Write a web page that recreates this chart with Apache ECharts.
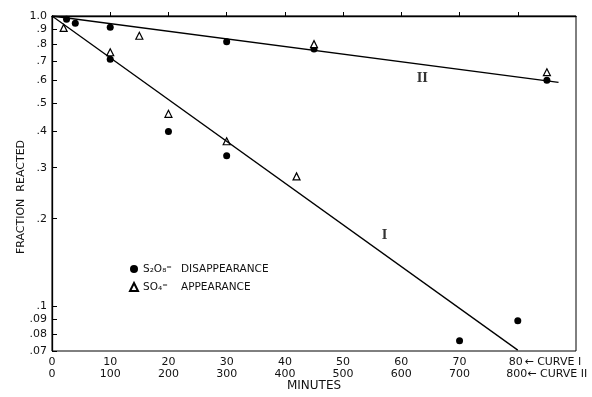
<!DOCTYPE html>
<html><head><meta charset="utf-8">
<script src="https://cdn.jsdelivr.net/npm/echarts@6/dist/echarts.min.js"></script>
<style>html,body{margin:0;padding:0;background:#fff}#c{width:592px;height:397px}</style>
</head><body><div id="c"></div>
<script>
// ---- Data ----
// Curve I uses the upper minute scale (0-80), curve II the lower one (0-800)
const curveI_circleMin = [10, 20, 30, 70, 80];
const curveI_circleFrac = [0.71, 0.40, 0.33, 0.076, 0.089];
const curveI_triMin = [2, 10, 20, 30, 42];
const curveI_triFrac = [0.91, 0.75, 0.46, 0.37, 0.28];
const curveII_circleMin = [25, 40, 100, 300, 450, 850];
const curveII_circleFrac = [0.975, 0.945, 0.915, 0.815, 0.77, 0.60];
const curveII_triMin = [150, 450, 850];
const curveII_triFrac = [0.855, 0.80, 0.64];
const lineI_min = [0, 80];
const lineI_frac = [1.0, 0.0705];
const lineII_min = [0, 870];
const lineII_frac = [1.0, 0.59];
// tick labels
const yTickVals = [1.0, 0.9, 0.8, 0.7, 0.6, 0.5, 0.4, 0.3, 0.2, 0.1, 0.09, 0.08, 0.07];
const yTickLabels = ['1.0', '.9', '.8', '.7', '.6', '.5', '.4', '.3', '.2', '.1', '.09', '.08', '.07'];
const xTopTicks = [0, 10, 20, 30, 40, 50, 60, 70, 80];
const xBottomTicks = [0, 100, 200, 300, 400, 500, 600, 700, 800];
const curveLabels = [{name: 'I', min: 57.1, frac: 0.175}, {name: 'II', min: 63.6, frac: 0.605}];

// ---- Build ----
const L = v => Math.log10(v);
const pts = (xs, ys) => xs.map((x, i) => [x, L(ys[i])]);
const FONT = 'DejaVu Sans';
const yLog = yTickVals.map(L);
const yFmt = v => {
  let best = 0, bd = Infinity;
  yLog.forEach((t, i) => { const d = Math.abs(t - v); if (d < bd) { bd = d; best = i; } });
  return yTickLabels[best];
};

const chart = echarts.init(document.getElementById('c'), null, {renderer: 'canvas'});
const circleStyle = {color: '#000', opacity: 1};
const triStyle = {color: '#fff', borderColor: '#000', borderWidth: 1.2, opacity: 1};

chart.setOption({
  animation: false,
  backgroundColor: '#fff',
  grid: {left: 52, top: 16, right: 16, bottom: 42, show: true, borderColor: '#000', borderWidth: 1, containLabel: false},
  xAxis: [{
    type: 'value', min: 0, max: 90, position: 'bottom',
    axisLine: {lineStyle: {color: '#000', width: 1.3}},
    axisTick: {inside: true, length: 4, customValues: xTopTicks.slice(1), lineStyle: {color: '#000'}},
    splitLine: {show: false},
    axisLabel: {
      customValues: xTopTicks, margin: 6, color: '#111', fontFamily: FONT, fontSize: 11,
      formatter: v => v === 80 ? '{p|}80{c|← CURVE I}' : String(v),
      rich: {p: {width: 52, fontSize: 11, fontFamily: FONT}, c: {width: 52, fontSize: 11, fontFamily: FONT, color: '#111', padding: [0, 0, 0, 4]}}
    },
    name: 'MINUTES', nameLocation: 'middle', nameGap: 29,
    nameTextStyle: {color: '#111', fontFamily: FONT, fontSize: 12}
  }, {
    type: 'value', min: 0, max: 900, position: 'bottom',
    axisLine: {show: false}, axisTick: {show: false}, splitLine: {show: false},
    axisLabel: {
      customValues: xBottomTicks, margin: 18, color: '#111', fontFamily: FONT, fontSize: 11,
      formatter: v => v === 800 ? '{p|}800{c|← CURVE II}' : String(v),
      rich: {p: {width: 56, fontSize: 11, fontFamily: FONT}, c: {width: 56, fontSize: 11, fontFamily: FONT, color: '#111', padding: [0, 0, 0, 2]}}
    }
  }],
  yAxis: {
    type: 'value', min: L(0.07), max: 0,
    axisLine: {show: true, lineStyle: {color: '#000', width: 1.3}},
    axisTick: {show: true, inside: true, length: 5, customValues: yLog, lineStyle: {color: '#000'}},
    splitLine: {show: false},
    axisLabel: {customValues: yLog, formatter: yFmt, margin: 5, color: '#111', fontFamily: FONT, fontSize: 11}
  },
  legend: {
    left: 124, top: 258, orient: 'vertical', itemGap: 6, itemWidth: 8, itemHeight: 8,
    selectedMode: false,
    data: [{name: 'S2O8', icon: 'circle'}, {name: 'SO4', icon: 'triangle'}],
    formatter: n => n === 'S2O8' ? '{f|S₂O₈⁼}{w|DISAPPEARANCE}' : '{f|SO₄⁼}{w|APPEARANCE}',
    textStyle: {
      color: '#111', fontFamily: FONT, fontSize: 10.5, lineHeight: 12,
      rich: {f: {width: 38, fontFamily: FONT, fontSize: 10.5, color: '#111'}, w: {fontFamily: FONT, fontSize: 10.5, color: '#111'}}
    }
  },
  graphic: [{
    type: 'text', x: 21, y: 197, rotation: Math.PI / 2,
    style: {text: 'FRACTION  REACTED', fill: '#111', font: '11px "DejaVu Sans"', align: 'center', verticalAlign: 'middle'}
  }],
  series: [
    {type: 'line', name: 'lineI', xAxisIndex: 0, data: pts(lineI_min, lineI_frac), showSymbol: false, silent: true,
     lineStyle: {color: '#000', width: 1.3}},
    {type: 'line', name: 'lineII', xAxisIndex: 1, data: pts(lineII_min, lineII_frac), showSymbol: false, silent: true,
     lineStyle: {color: '#000', width: 1.3}},
    {type: 'scatter', name: 'S2O8', xAxisIndex: 0, data: pts(curveI_circleMin, curveI_circleFrac), symbol: 'circle', symbolSize: 7, itemStyle: circleStyle},
    {type: 'scatter', name: 'S2O8', xAxisIndex: 1, data: pts(curveII_circleMin, curveII_circleFrac), symbol: 'circle', symbolSize: 7, itemStyle: circleStyle},
    {type: 'scatter', name: 'SO4', xAxisIndex: 0, data: pts(curveI_triMin, curveI_triFrac), symbol: 'triangle', symbolSize: 7, itemStyle: triStyle},
    {type: 'scatter', name: 'SO4', xAxisIndex: 1, data: pts(curveII_triMin, curveII_triFrac), symbol: 'triangle', symbolSize: 7, itemStyle: triStyle},
    {type: 'scatter', name: 'labels', xAxisIndex: 0, silent: true, symbolSize: 0,
     data: curveLabels.map(c => ({name: c.name, value: [c.min, L(c.frac)]})),
     label: {show: true, position: 'inside', formatter: p => p.name, color: '#000', fontFamily: 'DejaVu Serif', fontSize: 12, fontWeight: 'bold'}}
  ]
});
</script>
</body></html>
